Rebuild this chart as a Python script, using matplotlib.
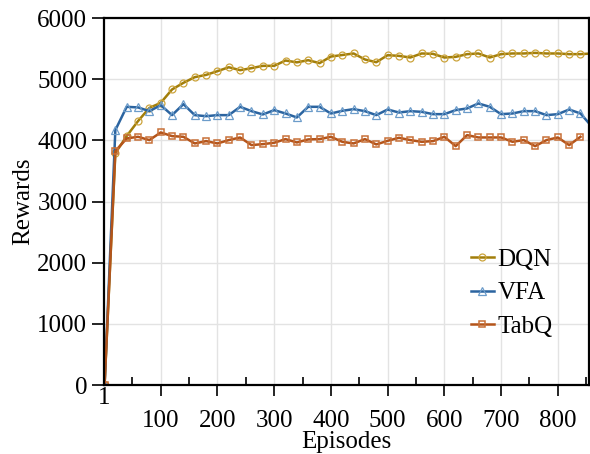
import numpy as np
import matplotlib
matplotlib.use('Agg')
import matplotlib.pyplot as plt
from matplotlib.transforms import blended_transform_factory

plt.rcParams['font.family'] = ['Liberation Serif', 'DejaVu Serif']

# episodes: first point at 1, then every 20 episodes
ep_dqn = [1] + list(range(20, 861, 20))
ep_vfa = [1] + list(range(20, 861, 20))
ep_tabq = [1] + list(range(20, 841, 20))

dqn = [0, 3790, 4070, 4315, 4530, 4613, 4832, 4940, 5033, 5070, 5131,
       5195, 5147, 5180, 5218, 5218, 5305, 5275, 5310, 5262, 5370,
       5395, 5420, 5322, 5277, 5392, 5381, 5354, 5420, 5414, 5354,
       5365, 5409, 5420, 5354, 5409, 5420, 5420, 5430, 5420, 5420,
       5409, 5409, 5420]
vfa = [0, 4167, 4548, 4538, 4477, 4575, 4412, 4592, 4412, 4395, 4412,
       4412, 4548, 4477, 4423, 4494, 4439, 4374, 4548, 4548, 4439,
       4482, 4510, 4477, 4412, 4504, 4455, 4477, 4466, 4428, 4428,
       4494, 4521, 4603, 4548, 4428, 4439, 4477, 4477, 4412, 4428,
       4504, 4439, 4225]
tabq = [0, 3824, 4031, 4058, 4004, 4129, 4069, 4058, 3949, 3987, 3949,
        4004, 4047, 3922, 3938, 3960, 4020, 3965, 4015, 4020, 4058,
        3976, 3949, 4020, 3933, 3992, 4042, 4004, 3976, 3987, 4058,
        3905, 4085, 4047, 4047, 4047, 3976, 4004, 3905, 4004, 4047,
        3922, 4058]

xticks = [100, 200, 300, 400, 500, 600, 700, 800]
yticks = [0, 1000, 2000, 3000, 4000, 5000, 6000]

fig = plt.figure(figsize=(5.9, 4.54), dpi=100)
ax = fig.add_axes([104 / 590, 1 - 385 / 454, 485 / 590, 367 / 454])

ax.plot(ep_dqn, dqn, color='#a27e0a', lw=1.8, marker='o', ms=5,
        mfc='none', mec='#cca43c', mew=0.9, label='DQN')
ax.plot(ep_vfa, vfa, color='#2b64a0', lw=1.8, marker='^', ms=5.5,
        mfc='none', mec='#6c9cca', mew=0.9, label='VFA')
ax.plot(ep_tabq, tabq, color='#b4541a', lw=1.8, marker='s', ms=5,
        mfc='none', mec='#c87038', mew=1.1, label='TabQ')

ax.set_xlim(0, 855)
ax.set_ylim(0, 6000)
ax.set_xticks(xticks)
ax.set_xticks([50, 150, 250, 350, 450, 550, 650, 750, 850], minor=True)
ax.set_yticks(yticks)
ax.tick_params(axis='x', which='major', direction='out', length=8, width=1.2,
               labelsize=18, pad=10)
ax.tick_params(axis='x', which='minor', direction='in', length=6, width=1.2)
ax.tick_params(axis='y', which='major', direction='out', length=9, width=1.2,
               labelsize=18, pad=3)
ax.grid(True, which='major', color='#e3e3e3', lw=1)
ax.set_axisbelow(True)
for s in ax.spines.values():
    s.set_linewidth(1.6)

trans = blended_transform_factory(ax.transData, ax.transAxes)
ax.text(1, -0.005, '1', transform=trans, ha='center', va='top', fontsize=18)

ax.set_xlabel('Episodes', fontsize=18, labelpad=-1)
ax.set_ylabel('Rewards', fontsize=18, labelpad=2)

ax.legend(loc='upper left', bbox_to_anchor=(471 / 590, 1 - 248 / 454),
          bbox_transform=fig.transFigure, frameon=False, fontsize=18,
          borderpad=0, borderaxespad=0, handlelength=0.9, handletextpad=0.15,
          labelspacing=0.45, numpoints=1)

fig.savefig('out.png', dpi=100)
